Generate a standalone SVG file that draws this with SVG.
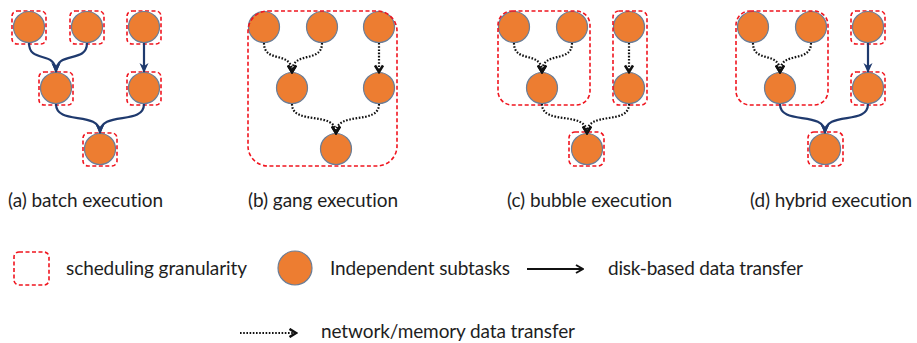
<svg xmlns="http://www.w3.org/2000/svg" width="917" height="343" viewBox="0 0 917 343">
<style>
.n{fill:#ED7D31;stroke:#6A7E98;stroke-width:1.2}
.g{fill:none;stroke:#F0141E;stroke-width:1.6;stroke-dasharray:4 2.5}
.d{fill:none;stroke:#1F3A6E;stroke-width:2.2;marker-end:url(#ah)}
.o{fill:none;stroke:#111;stroke-width:2.2;stroke-dasharray:1.6 1.6;marker-end:url(#ch)}
.t{font-family:Lato,"Liberation Sans",sans-serif;font-size:19px;fill:#1e1e1e;font-variant-ligatures:none;font-feature-settings:"liga" 0}
</style>
<defs>
<marker id="ah" markerUnits="userSpaceOnUse" viewBox="0 0 10 10" refX="9" refY="5" markerWidth="10" markerHeight="10" orient="auto">
<path d="M0,0.5 L10,5 L0,9.5 L3,5 z" fill="#1F3A6E"/>
</marker>
<marker id="ch" markerUnits="userSpaceOnUse" viewBox="0 0 10 10" refX="8" refY="5" markerWidth="10" markerHeight="10" orient="auto">
<path d="M1.5,1 L8,5 L1.5,9" fill="none" stroke="#111" stroke-width="2.6"/>
</marker>
<marker id="la" markerUnits="userSpaceOnUse" viewBox="0 0 10 10" refX="9" refY="5" markerWidth="10" markerHeight="10" orient="auto">
<path d="M2,1 L9,5 L2,9" fill="none" stroke="#111" stroke-width="2"/>
</marker>
</defs>
<rect width="917" height="343" fill="#fff"/>

<!-- Panel (a) -->
<g id="panel-a">
<g id="a1"><rect class="g" x="12" y="11" width="34" height="33" rx="5"/><circle class="n" cx="29" cy="27" r="15.5"/></g>
<g id="a2"><rect class="g" x="70" y="11" width="34" height="33" rx="5"/><circle class="n" cx="87" cy="27" r="15.5"/></g>
<g id="a3"><rect class="g" x="127" y="11" width="34" height="33" rx="5"/><circle class="n" cx="144" cy="27" r="15.5"/></g>
<g id="a4"><rect class="g" x="39" y="72" width="34" height="33" rx="5"/><circle class="n" cx="56" cy="88" r="15.5"/></g>
<g id="a5"><rect class="g" x="127" y="72" width="34" height="33" rx="5"/><circle class="n" cx="144" cy="88" r="15.5"/></g>
<g id="a6"><rect class="g" x="83" y="133" width="34" height="33" rx="5"/><circle class="n" cx="100" cy="149" r="15.5"/></g>
</g>

<!-- Panel (b) -->
<g id="panel-b">
<g id="b1"><circle class="n" cx="264" cy="27" r="15.5"/></g>
<g id="b2"><circle class="n" cx="322" cy="27" r="15.5"/></g>
<g id="b3"><circle class="n" cx="379" cy="27" r="15.5"/></g>
<g id="b4"><circle class="n" cx="292" cy="88" r="15.5"/></g>
<g id="b5"><circle class="n" cx="379" cy="88" r="15.5"/></g>
<g id="b6"><circle class="n" cx="336" cy="149" r="15.5"/></g>
<g id="b-group"><rect class="g" x="248" y="11" width="149" height="155" rx="20"/></g>
</g>

<!-- Panel (c) -->
<g id="panel-c">
<g id="c1"><circle class="n" cx="514" cy="27" r="15.5"/></g>
<g id="c2"><circle class="n" cx="572" cy="27" r="15.5"/></g>
<g id="c3"><circle class="n" cx="542" cy="88" r="15.5"/></g>
<g id="c4"><circle class="n" cx="629" cy="27" r="15.5"/></g>
<g id="c5"><circle class="n" cx="629" cy="88" r="15.5"/></g>
<g id="c6"><rect class="g" x="569" y="132" width="35" height="34" rx="6"/><circle class="n" cx="587" cy="149" r="15.5"/></g>
<g id="c-group1"><rect class="g" x="498" y="11" width="92" height="94" rx="14"/></g>
<g id="c-group2"><rect class="g" x="613" y="11" width="34" height="94" rx="6"/></g>
</g>

<!-- Panel (d) -->
<g id="panel-d">
<g id="d1"><circle class="n" cx="753" cy="27" r="15.5"/></g>
<g id="d2"><circle class="n" cx="811" cy="27" r="15.5"/></g>
<g id="d3"><circle class="n" cx="780" cy="88" r="15.5"/></g>
<g id="d4"><rect class="g" x="851" y="11" width="34" height="33" rx="5"/><circle class="n" cx="868" cy="27" r="15.5"/></g>
<g id="d5"><rect class="g" x="851" y="72" width="34" height="33" rx="5"/><circle class="n" cx="868" cy="88" r="15.5"/></g>
<g id="d6"><rect class="g" x="808" y="132" width="35" height="34" rx="6"/><circle class="n" cx="825" cy="149" r="15.5"/></g>
<g id="d-group1"><rect class="g" x="736" y="11" width="92" height="94" rx="14"/></g>
</g>

<!-- Connectors -->
<g id="connectors">
<path class="d" d="M29,43 C29,64 56,50 56,72"/>
<path class="d" d="M87,43 C87,64 56,50 56,72"/>
<path class="d" d="M144,43 L144,72"/>
<path class="d" d="M56,104 C56,126 100,110 100,133"/>
<path class="d" d="M144,104 C144,126 100,110 100,133"/>

<path class="o" d="M264,43 C264,64 292,50 292,72"/>
<path class="o" d="M322,43 C322,64 292,50 292,72"/>
<path class="o" d="M379,43 L379,72"/>
<path class="o" d="M292,104 C292,126 336,110 336,133"/>
<path class="o" d="M379,104 C379,126 336,110 336,133"/>

<path class="o" d="M514,43 C514,64 542,50 542,72"/>
<path class="o" d="M572,43 C572,64 542,50 542,72"/>
<path class="o" d="M629,43 L629,72"/>
<path class="o" d="M542,104 C542,126 587,110 587,133"/>
<path class="o" d="M629,104 C629,126 587,110 587,133"/>

<path class="o" d="M753,43 C753,64 780,50 780,72"/>
<path class="o" d="M811,43 C811,64 780,50 780,72"/>
<path class="d" d="M868,43 L868,72"/>
<path class="d" d="M780,104 C780,126 825,110 825,133"/>
<path class="d" d="M868,104 C868,126 825,110 825,133"/>
</g>

<!-- Captions -->
<g id="captions">
<text class="t" x="8" y="207" textLength="155">(a) batch execution</text>
<text class="t" x="248" y="207" textLength="150">(b) gang execution</text>
<text class="t" x="507" y="207" textLength="165">(c) bubble execution</text>
<text class="t" x="750" y="207" textLength="162">(d) hybrid execution</text>
</g>

<!-- Legend -->
<g id="legend">
<g id="legend-granularity"><rect class="g" x="14" y="252" width="35" height="33" rx="5"/>
<text class="t" x="66" y="275" textLength="181">scheduling granularity</text></g>
<g id="legend-subtask"><circle class="n" cx="295" cy="268" r="17"/>
<text class="t" x="330" y="275" textLength="180">Independent subtasks</text></g>
<g id="legend-disk"><path d="M527,269 L583,269" fill="none" stroke="#111" stroke-width="2" marker-end="url(#la)"/>
<text class="t" x="608" y="275" textLength="195">disk-based data transfer</text></g>
<g id="legend-network"><path d="M240,333 L296,333" fill="none" stroke="#111" stroke-width="2" stroke-dasharray="1.6 1.6" marker-end="url(#ch)"/>
<text class="t" x="321" y="338" textLength="254">network/memory data transfer</text></g>
</g>
</svg>
